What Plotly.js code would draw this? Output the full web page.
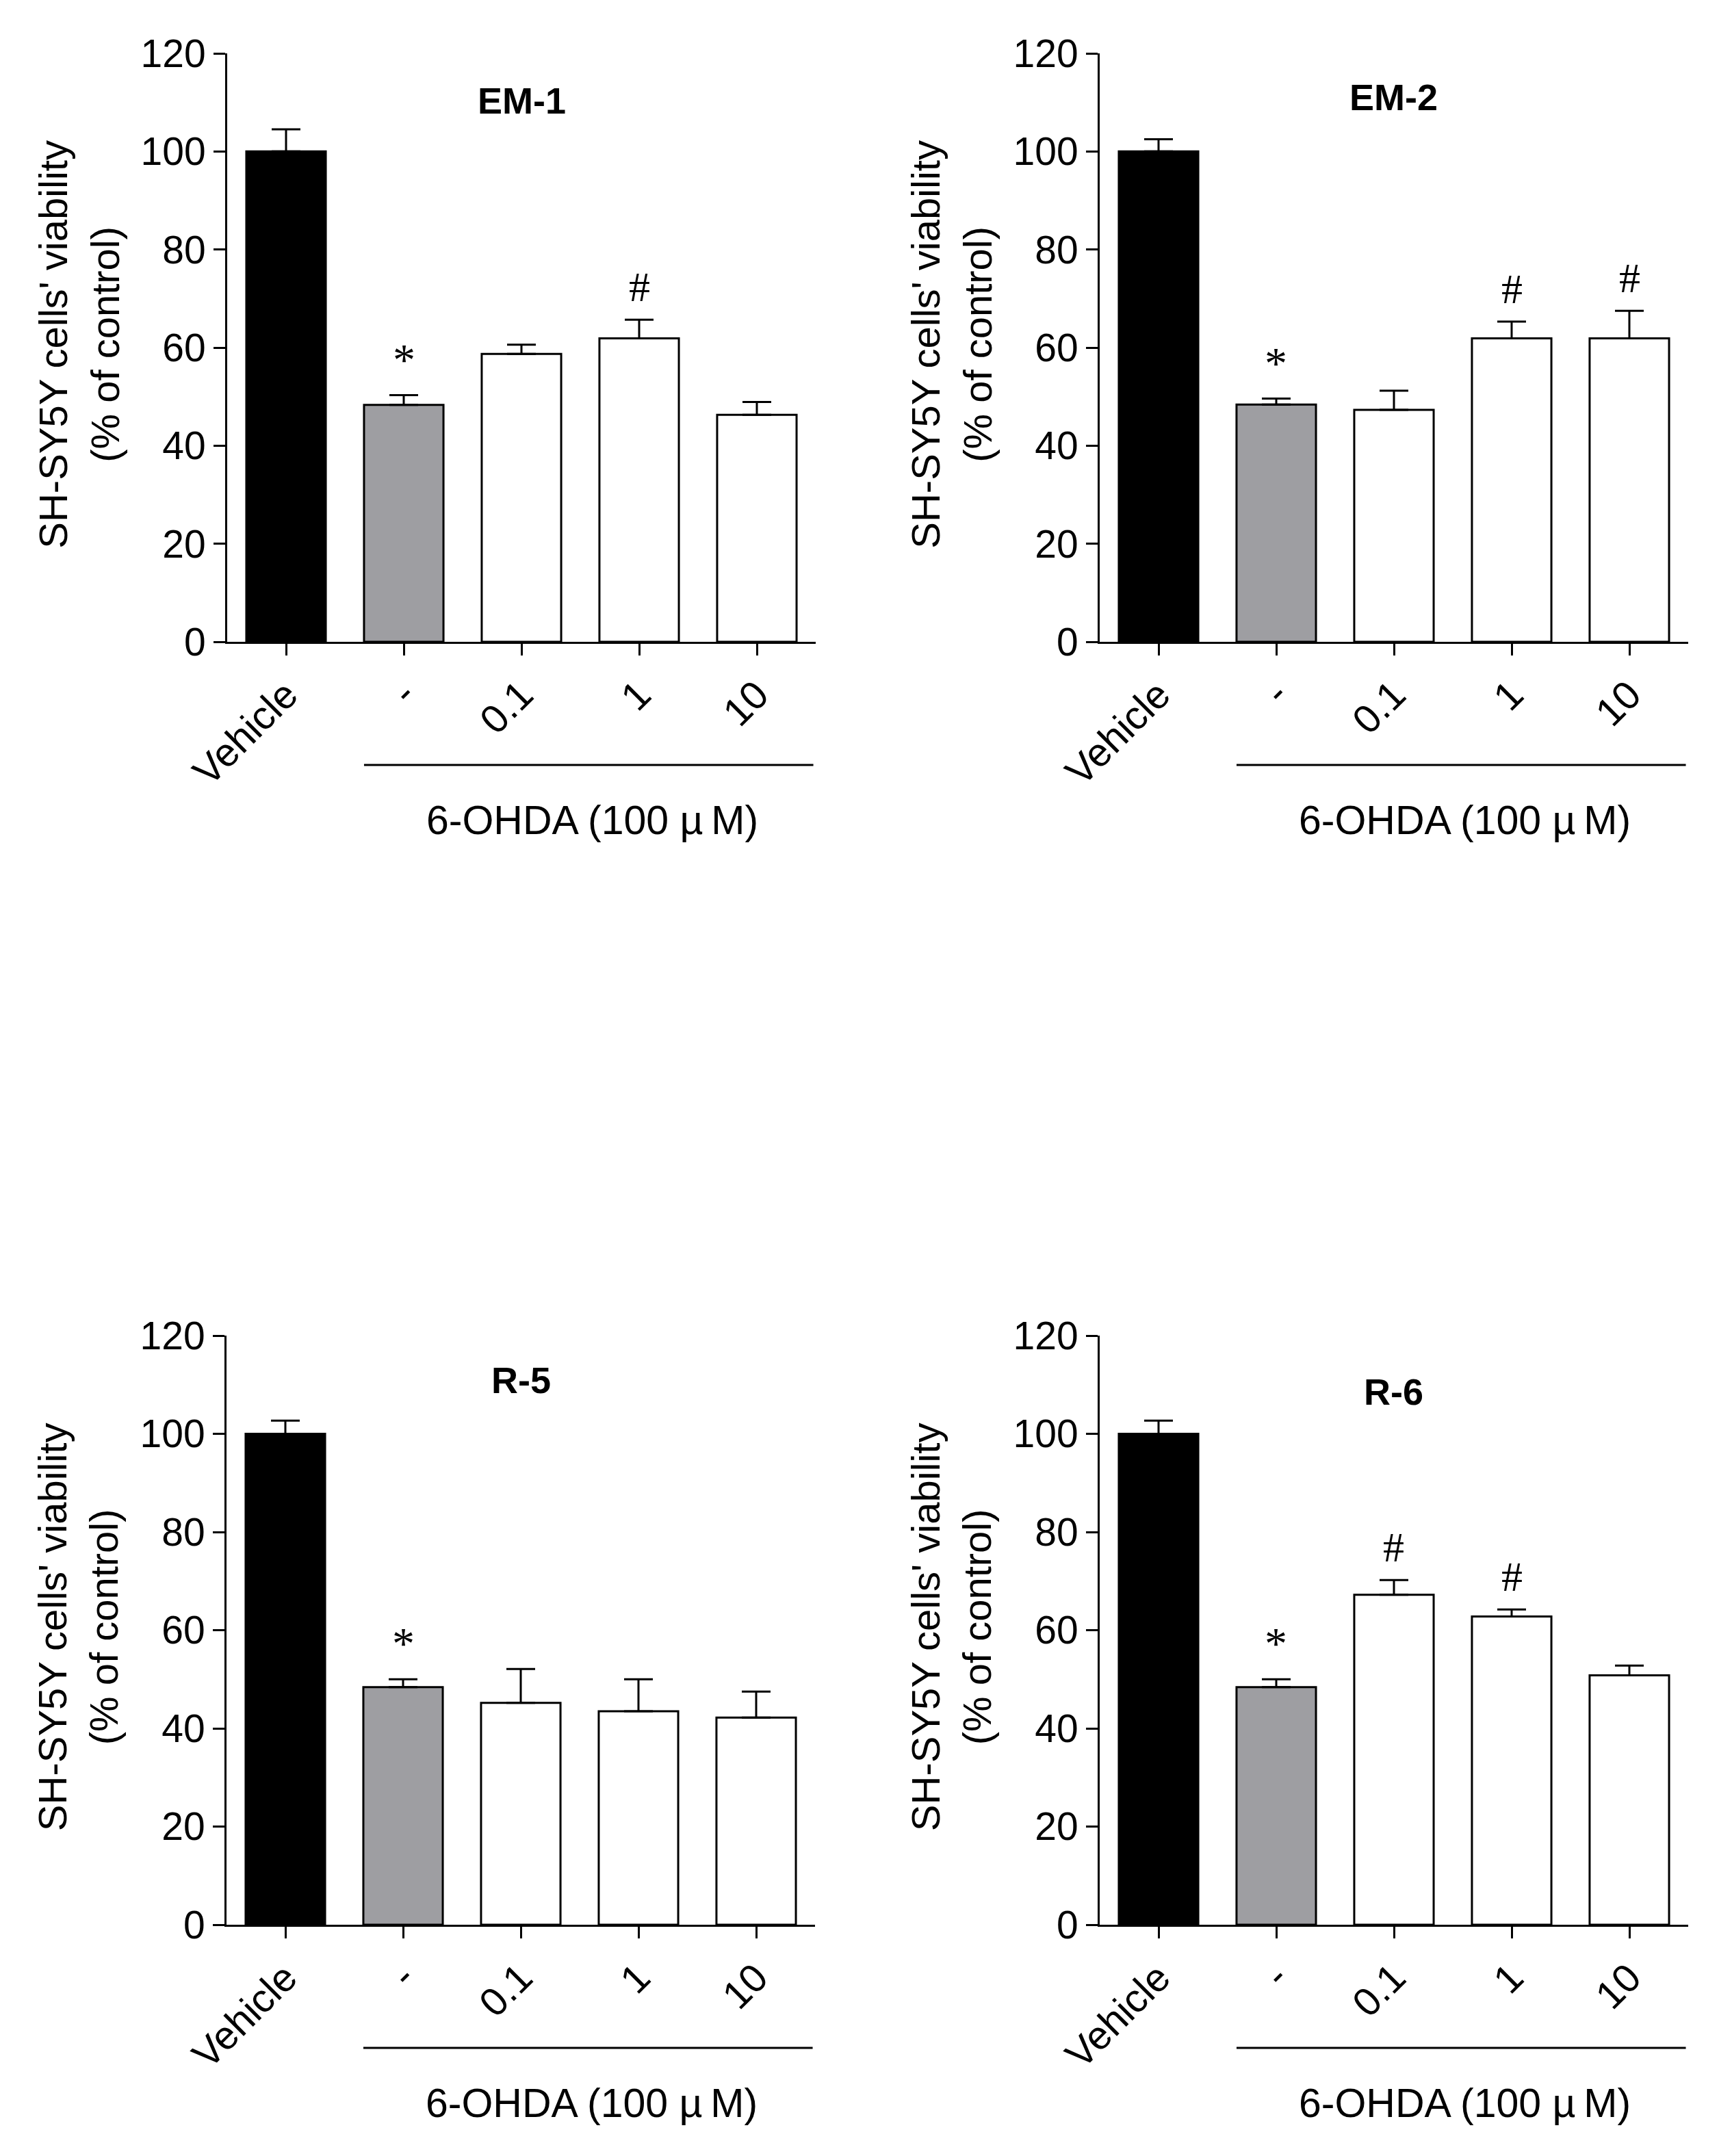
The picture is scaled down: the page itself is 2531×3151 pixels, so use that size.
<!DOCTYPE html>
<html>
<head>
<meta charset="utf-8">
<script src="https://cdn.plot.ly/plotly-3.0.1.min.js"></script>
<style>html,body{margin:0;padding:0;background:#fff;}#chart{width:2531px;height:3151px;}</style>
</head>
<body>
<div id="chart"></div>
<script>
// ---- data ----
const categories = ['Vehicle', '-', '0.1', '1', '10'];
const panelTitles = ['EM-1', 'EM-2', 'R-5', 'R-6'];

const em1Values = [100, 48.3, 58.7, 61.9, 46.3];
const em1Errors = [4.5, 2.0, 1.9, 3.8, 2.6];
const em1Marks  = ['', '*', '', '#', ''];

const em2Values = [100, 48.4, 47.3, 61.9, 61.9];
const em2Errors = [2.5, 1.2, 3.9, 3.4, 5.6];
const em2Marks  = ['', '*', '', '#', '#'];

const r5Values = [100, 48.4, 45.2, 43.5, 42.2];
const r5Errors = [2.7, 1.6, 6.9, 6.5, 5.3];
const r5Marks  = ['', '*', '', '', ''];

const r6Values = [100, 48.4, 67.2, 62.8, 50.8];
const r6Errors = [2.7, 1.6, 3.0, 1.4, 2.0];
const r6Marks  = ['', '*', '#', '#', ''];

const yTickValues = [0, 20, 40, 60, 80, 100, 120];
const yAxisTitle = "SH-SY5Y cells' viability<br>(% of control)";
const groupLabel = '6-OHDA (100 µ\u2009M)';

// ---- styling / layout ----
const W = 2531, H = 3151;
const FONT = 'Liberation Sans, Arial, sans-serif';
const barColors = ['#000000', '#9e9ea2', '#ffffff', '#ffffff', '#ffffff'];
const BAR_W = 0.675;

const panels = [
  {vals: em1Values, errs: em1Errors, marks: em1Marks, title: panelTitles[0], xPx: [332, 1192], yPx: [78, 938], titleY: 0.92},
  {vals: em2Values, errs: em2Errors, marks: em2Marks, title: panelTitles[1], xPx: [1607, 2467], yPx: [78, 938], titleY: 0.925},
  {vals: r5Values, errs: r5Errors, marks: r5Marks, title: panelTitles[2], xPx: [331, 1191], yPx: [1952, 2813], titleY: 0.925},
  {vals: r6Values, errs: r6Errors, marks: r6Marks, title: panelTitles[3], xPx: [1607, 2467], yPx: [1952, 2813], titleY: 0.905}
];

const data = [];
const layout = {
  width: W, height: H,
  margin: {l: 0, r: 0, t: 0, b: 0},
  paper_bgcolor: '#fff', plot_bgcolor: 'rgba(0,0,0,0)',
  showlegend: false,
  font: {family: FONT, color: '#000', size: 56},
  annotations: [], shapes: []
};

panels.forEach((p, i) => {
  const n = i === 0 ? '' : String(i + 1);
  const xa = 'x' + n, ya = 'y' + n;
  data.push({
    type: 'bar', x: [0, 1, 2, 3, 4], y: p.vals,
    xaxis: xa, yaxis: ya, width: BAR_W,
    marker: {color: barColors, line: {color: '#000', width: 3}},
    error_y: {type: 'data', array: p.errs, arrayminus: p.vals.map(() => 0), symmetric: false,
              color: '#000', thickness: 3, width: 21},
    hoverinfo: 'none'
  });
  layout['xaxis' + n] = {
    domain: [p.xPx[0] / W, p.xPx[1] / W], anchor: ya,
    range: [-0.5, 4.5], tickmode: 'array', tickvals: [0, 1, 2, 3, 4], ticktext: categories,
    tickangle: -45, ticks: 'outside', ticklen: 17, tickwidth: 3, tickcolor: '#000',
    showline: true, linewidth: 3, linecolor: '#000', showgrid: false, zeroline: false,
    tickfont: {family: FONT, size: 58, color: '#000'}
  };
  layout['yaxis' + n] = {
    domain: [1 - p.yPx[1] / H, 1 - p.yPx[0] / H], anchor: xa,
    range: [0, 120], tickmode: 'array', tickvals: yTickValues,
    ticks: 'outside', ticklen: 17, tickwidth: 3, tickcolor: '#000',
    showline: true, linewidth: 3, linecolor: '#000', showgrid: false, zeroline: false,
    tickfont: {family: FONT, size: 57, color: '#000'}
  };
  // panel title
  layout.annotations.push({
    text: '<b>' + p.title + '</b>', xref: xa + ' domain', yref: ya + ' domain',
    x: 0.5, y: p.titleY, xanchor: 'center', yanchor: 'middle', showarrow: false,
    font: {family: FONT, size: 54, color: '#000'}
  });
  // y axis title
  layout.annotations.push({
    text: yAxisTitle, xref: 'paper', yref: ya + ' domain',
    x: (p.xPx[0] - 217) / W, y: 0.505, xanchor: 'center', yanchor: 'middle',
    textangle: -90, showarrow: false,
    font: {family: FONT, size: 58, color: '#000'}
  });
  // significance marks
  p.marks.forEach((m, k) => {
    if (!m) return;
    layout.annotations.push({
      text: m, xref: xa, yref: ya, x: k, y: p.vals[k] + p.errs[k],
      xanchor: 'center', yanchor: 'bottom', yshift: m === '*' ? 14 : 12, showarrow: false,
      font: {family: 'Liberation Serif, Times New Roman, serif', size: m === '*' ? 66 : 62, color: '#000'}
    });
  });
  // 6-OHDA bracket line and label
  const lineX0 = 1 - BAR_W / 2, lineX1 = 4.48;
  const lineY = 1 - (p.yPx[1] + 180) / H;
  layout.shapes.push({
    type: 'line', xref: xa, yref: 'paper', x0: lineX0, x1: lineX1, y0: lineY, y1: lineY,
    line: {color: '#000', width: 3}
  });
  layout.annotations.push({
    text: groupLabel, xref: xa, yref: 'paper', x: (lineX0 + lineX1) / 2 + 0.03,
    y: 1 - (p.yPx[1] + 261) / H, xanchor: 'center', yanchor: 'middle', showarrow: false,
    font: {family: FONT, size: 59, color: '#000'}
  });
});

Plotly.newPlot('chart', data, layout, {staticPlot: true});
</script>
</body>
</html>
